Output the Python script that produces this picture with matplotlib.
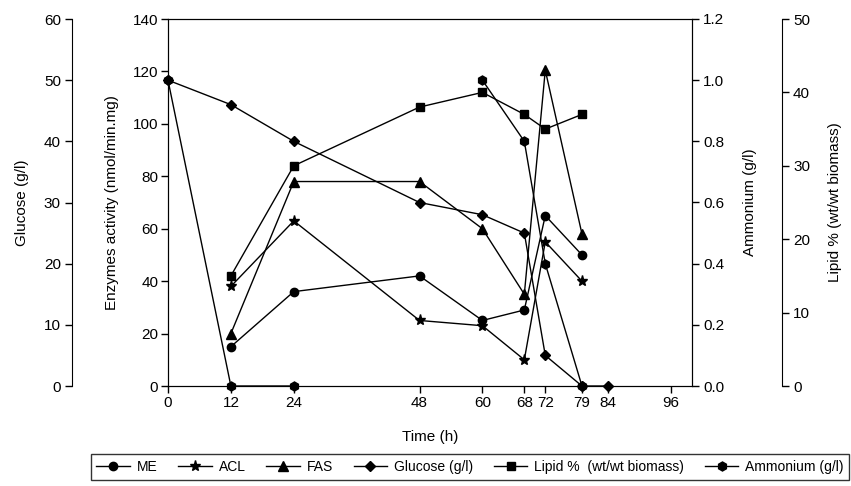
import numpy as np
import matplotlib.pyplot as plt

plt.rcParams['font.family'] = ['Liberation Sans', 'DejaVu Sans']
plt.rcParams['font.size'] = 11

# Sampling times (h)
time = [0, 12, 24, 48, 60, 68, 72, 79, 84]
xticks = [0, 12, 24, 48, 60, 68, 72, 79, 84, 96]

# Enzyme activities (nmol/min.mg)
me = [np.nan, 15, 36, 42, 25, 29, 65, 50, np.nan]
acl = [np.nan, 38, 63, 25, 23, 10, 55, 40, np.nan]
fas = [np.nan, 20, 78, 78, 60, 35, 120.5, 58, np.nan]
# Glucose (g/l)
glucose = [50, 46, 40, 30, 28, 25, 5, 0, 0]
# Lipid % (wt/wt biomass)
lipid = [np.nan, 15, 30, 38, 40, 37, 35, 37, np.nan]
# Ammonium (g/l), no reading at 48 h
ammonium = [1.0, 0, 0, np.nan, 1.0, 0.8, 0.4, 0, np.nan]

fig = plt.figure(figsize=(8.51, 4.86), dpi=100)
ax = fig.add_axes([168/851, 100/486, 524/851, 367/486])
ax_a = ax.twinx()
ax_g = ax.twinx()
ax_l = ax.twinx()

style = dict(color='black', linewidth=1, markersize=6, clip_on=False)

l_me, = ax.plot(time, me, marker='o', label='ME', **style)
l_acl, = ax.plot(time, acl, marker='*', label='ACL', **dict(style, markersize=8))
l_fas, = ax.plot(time, fas, marker='^', label='FAS', **dict(style, markersize=6.5))
l_glu, = ax_g.plot(time, glucose, marker='D', label='Glucose (g/l)', **dict(style, markersize=5.5))
l_lip, = ax_l.plot(time, lipid, marker='s', label='Lipid %  (wt/wt biomass)', **style)
l_amm, = ax_a.plot(time, ammonium, marker='h', label='Ammonium (g/l)', **dict(style, markersize=6.5))

# main axes: enzymes left, ammonium on the right spine
ax.set_xlim(0, 100)
ax.set_ylim(0, 140)
ax.set_xticks(xticks)
ax.set_yticks(range(0, 141, 20))
ax.set_xlabel('Time (h)')
ax.xaxis.set_label_coords(0.5, -0.12)
ax.set_ylabel('Enzymes activity (nmol/min.mg)')
ax.yaxis.set_label_coords(-0.0935, 0.5)
ax.tick_params(direction='out', length=5, width=1, pad=2)

ax_a.set_ylim(0, 1.2)
ax_a.set_yticks([0, 0.2, 0.4, 0.6, 0.8, 1.0, 1.2])
ax_a.set_yticklabels(['0.0', '0.2', '0.4', '0.6', '0.8', '1.0', '1.2'])
ax_a.set_ylabel('Ammonium (g/l)')
ax_a.yaxis.set_label_coords(1.0973, 0.5)
ax_a.tick_params(direction='out', length=5, width=1, pad=3)

# glucose axis offset to the left
ax_g.set_ylim(0, 60)
ax_g.set_yticks(range(0, 61, 10))
ax_g.spines['left'].set_position(('axes', -96/524))
ax_g.spines['left'].set_visible(True)
for s in ['right', 'top', 'bottom']:
    ax_g.spines[s].set_visible(False)
ax_g.yaxis.set_ticks_position('left')
ax_g.yaxis.set_label_position('left')
ax_g.set_ylabel('Glucose (g/l)')
ax_g.yaxis.set_label_coords(-0.265, 0.5)
ax_g.tick_params(direction='out', length=5, width=1, pad=3)

# lipid axis offset to the right
ax_l.set_ylim(0, 50)
ax_l.set_yticks(range(0, 51, 10))
ax_l.spines['right'].set_position(('axes', 614/524))
for s in ['left', 'top', 'bottom']:
    ax_l.spines[s].set_visible(False)
ax_l.set_ylabel('Lipid % (wt/wt biomass)')
ax_l.yaxis.set_label_coords(1.2595, 0.5)
ax_l.tick_params(direction='out', length=5, width=1, pad=3)

handles = [l_me, l_acl, l_fas, l_glu, l_lip, l_amm]
leg = fig.legend(handles=handles, labels=[h.get_label() for h in handles],
                 loc='center', bbox_to_anchor=(470/851, 19/486), ncol=6,
                 frameon=True, fancybox=False, edgecolor='black',
                 handlelength=2.4, columnspacing=1.5, handletextpad=0.5,
                 borderpad=0.4, borderaxespad=0, fontsize=10)
leg.get_frame().set_linewidth(1)

fig.savefig('out.png', dpi=100)
